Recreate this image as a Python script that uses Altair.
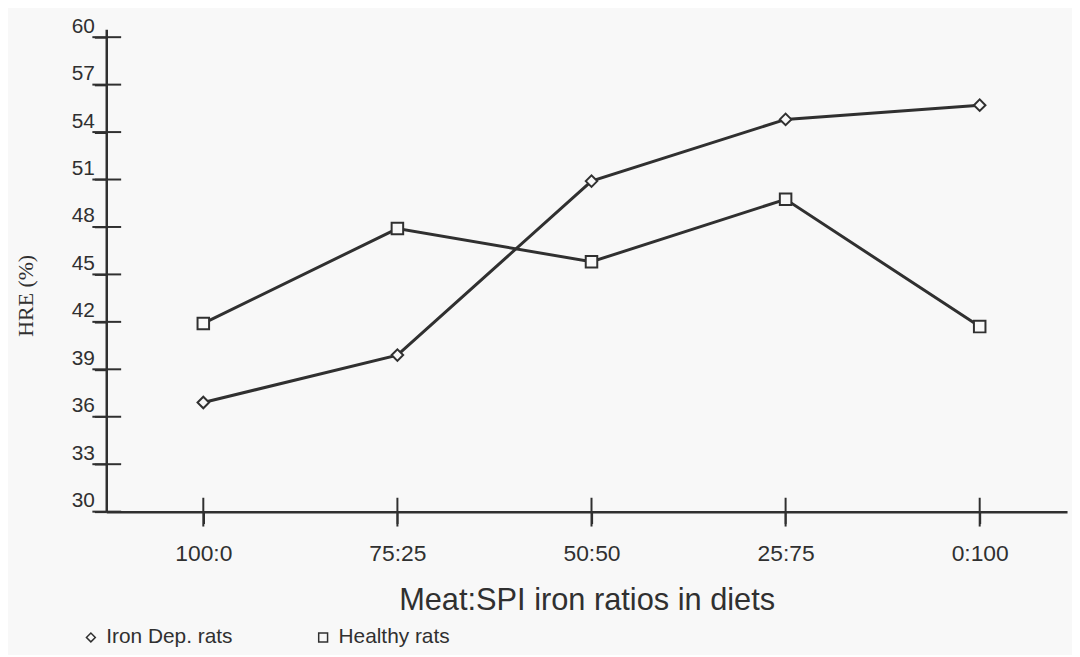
import altair as alt
import pandas as pd

# ---- data ----
categories = ["100:0", "75:25", "50:50", "25:75", "0:100"]
iron_dep = [36.9, 39.9, 50.9, 54.8, 55.7]
healthy = [41.9, 47.9, 45.8, 49.75, 41.7]
series_names = ["Iron Dep. rats", "Healthy rats"]
y_ticks = [30, 33, 36, 39, 42, 45, 48, 51, 54, 57, 60]

rows = []
for i, c in enumerate(categories):
    rows.append({"idx": i, "ratio": c, "series": series_names[0], "hre": iron_dep[i]})
    rows.append({"idx": i, "ratio": c, "series": series_names[1], "hre": healthy[i]})
df = pd.DataFrame(rows)
ytick_df = pd.DataFrame({"hre": y_ticks})
xtick_df = pd.DataFrame({"idx": list(range(len(categories)))})

label_expr = "[" + ",".join(f"'{c}'" for c in categories) + "][datum.value]"

W, H = 968, 486
ink = "#303030"
bg = "#f8f8f8"

x_enc = alt.X(
    "idx:Q",
    scale=alt.Scale(domain=[-0.5, 4.45], nice=False, zero=False),
    axis=alt.Axis(
        values=list(range(len(categories))),
        labelExpr=label_expr,
        title="Meat:SPI iron ratios in diets",
        grid=False,
        domainColor=ink, domainWidth=2.5,
        tickColor=ink, tickWidth=2, tickSize=12,
        labelFont="Liberation Sans", labelFontSize=23, labelColor=ink,
        labelBaseline="middle", labelPadding=30,
        titleFont="Liberation Sans", titleFontSize=31, titleFontWeight="normal",
        titleColor=ink, titleY=99, titleBaseline="alphabetic",
    ),
)
y_enc = alt.Y(
    "hre:Q",
    scale=alt.Scale(domain=[30, 60.5], nice=False, zero=False),
    axis=alt.Axis(
        values=y_ticks,
        title="HRE (%)",
        grid=False,
        domainColor=ink, domainWidth=2.5,
        tickColor=ink, tickWidth=2, tickSize=12,
        labelFont="Liberation Sans", labelFontSize=21, labelColor=ink,
        labelPadding=0, labelAlign="right", labelBaseline="alphabetic",
        labelOffset=-5,
        titleFont="Liberation Serif", titleFontSize=22, titleFontWeight="normal",
        titleColor=ink, titleAngle=270, titleX=-81, titleY=268,
        titleAlign="center", titleBaseline="middle",
    ),
)

lines = alt.Chart(df).mark_line(color=ink, strokeWidth=3).encode(
    x=x_enc, y=y_enc, detail="series:N"
)

legend_spec = alt.Legend(
    orient="none", legendX=-26, legendY=602,
    direction="horizontal",
    labelFont="Liberation Sans", labelFontSize=21, labelColor=ink,
    symbolSize=80, symbolFillColor=bg, symbolStrokeWidth=1.5,
    labelOffset=5, columnPadding=80,
)

shape_enc = alt.Shape(
    "series:N",
    scale=alt.Scale(domain=series_names, range=["diamond", "square"]),
    legend=legend_spec,
)
color_enc = alt.Color(
    "series:N",
    scale=alt.Scale(domain=series_names, range=[ink, ink]),
    legend=legend_spec,
)

points = alt.Chart(df).mark_point(
    filled=False, fill=bg, strokeWidth=2, opacity=1, size=135
).encode(
    x=x_enc,
    y=y_enc,
    shape=shape_enc,
    color=color_enc,
)

ytick_rules = alt.Chart(ytick_df).mark_rule(color=ink, strokeWidth=2).encode(
    y=y_enc, x=alt.value(-14), x2=alt.value(15)
)
xtick_rules = alt.Chart(xtick_df).mark_rule(color=ink, strokeWidth=2).encode(
    x=x_enc, y=alt.value(H - 14), y2=alt.value(H + 15)
)

chart = (
    alt.layer(lines, ytick_rules, xtick_rules, points)
    .properties(
        width=W, height=H, background=bg,
        padding={"left": 99, "top": 19, "right": 5, "bottom": 142},
        autosize=alt.AutoSizeParams(type="none"),
    )
    .configure_view(strokeWidth=0)
    .configure_legend(title=None)
)

chart.save("out.html", embed_options={"renderer": "svg", "actions": False})
